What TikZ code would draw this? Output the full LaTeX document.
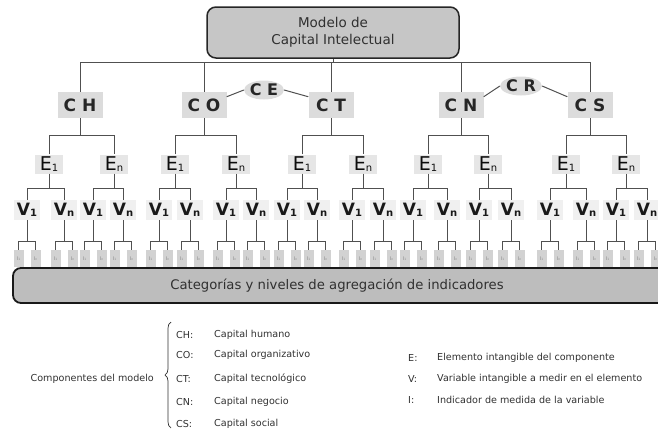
\documentclass[tikz,border=0pt]{standalone}
\usepackage{fontspec}
\setmainfont{DejaVu Sans}
\usetikzlibrary{shapes.geometric,decorations.pathreplacing}
\definecolor{linegray}{HTML}{505050}
\definecolor{txtgray}{HTML}{303030}
\definecolor{topfill}{HTML}{C6C6C6}
\definecolor{catfill}{HTML}{BDBDBD}
\definecolor{compfill}{HTML}{DCDCDC}
\definecolor{efill}{HTML}{E6E6E6}
\definecolor{vfill}{HTML}{F0F0F0}
\definecolor{ifill}{HTML}{D2D2D2}
\newcommand\esub[1]{\raisebox{-0.5pt}{\fontsize{10}{10}\selectfont #1}}
\newcommand\vsub[1]{\raisebox{-0.5pt}{\fontsize{10}{10}\selectfont\bfseries #1}}
\newcommand\isub[1]{\raisebox{-0.5pt}{\fontsize{3}{3}\selectfont #1}}
\tikzset{
  conn/.style={draw=linegray, line width=1pt},
  topbox/.style={draw=black!85, line width=1.5pt, fill=topfill, rounded corners=9pt,
     minimum width=252pt, minimum height=51pt, align=center, inner sep=0pt,
     text=txtgray, font=\fontsize{13.5}{17}\selectfont},
  comp/.style={fill=compfill, minimum width=45pt, minimum height=26pt, inner sep=0pt,
     text=black!85, font=\fontsize{17}{17}\selectfont\bfseries},
  rel/.style={ellipse, fill=compfill, minimum width=37pt, minimum height=19pt, inner sep=0pt,
     text=black!85, font=\fontsize{16}{16}\selectfont\bfseries},
  enode/.style={fill=efill, minimum width=28pt, minimum height=19pt, inner sep=0pt,
     text=black!95, font=\fontsize{19}{19}\selectfont},
  vnode/.style={fill=vfill, minimum width=26pt, minimum height=20pt, inner sep=0pt,
     text=black!90, font=\fontsize{17}{17}\selectfont\bfseries},
  inode/.style={fill=ifill, minimum width=10pt, minimum height=17pt, inner sep=0pt,
     text=black!45, font=\fontsize{5}{5}\selectfont},
  legend/.style={anchor=west, inner sep=0pt, text=txtgray, font=\fontsize{9.6}{9.6}\selectfont},
}
\begin{document}
\begin{tikzpicture}[x=1pt,y=-1pt]
\useasboundingbox (0,0) rectangle (658,434);

% bars
\coordinate (barT) at (0,62);
\coordinate (barE) at (0,135);
\coordinate (barV) at (0,188);
\coordinate (barI) at (0,241);

% top
\node[topbox] (top) at (333,32.5) {Modelo de\\Capital Intelectual};

% components
\foreach \c/\cx/\lab in {CH/80/{C H}, CO/204/{C O}, CT/331/{C T}, CN/461/{C N}, CS/590/{C S}}
  {\node[comp] (\c) at (\cx,105) {\lab};}
\node[rel] (CE) at (264,90) {C E};
\node[rel] (CR) at (521,86) {C R};

\draw[conn] (top.south) -- (top.south |- barT);
\draw[conn] (CH.north) -- (CH.north |- barT) -- (CS.north |- barT) -- (CS.north);
\draw[conn] (CO.north) -- (CO.north |- barT);
\draw[conn] (CT.north) -- (CT.north |- barT);
\draw[conn] (CN.north) -- (CN.north |- barT);
\draw[conn] (CO.20) -- (CE.west);
\draw[conn] (CE.east) -- (CT.160);
\draw[conn] (CN.20) -- (CR.west);
\draw[conn] (CR.east) -- (CS.160);

% elements
\foreach \c/\xa/\xb in {CH/49/114, CO/175/236, CT/302/363, CN/428/488, CS/566/626} {
  \node[enode] (E\c1) at (\xa,164) {E\esub{1}};
  \node[enode] (E\c n) at (\xb,164) {E\esub{n}};
  \draw[conn] (\c.south) -- (\c.south |- barE);
  \draw[conn] (E\c1.north) -- (E\c1.north |- barE) -- (E\c n.north |- barE) -- (E\c n.north);
}

% variables and indicators
\foreach \e/\va/\vb in {CH1/27/64, CHn/93/123, CO1/159/190, COn/226/256, CT1/287/317,
    CTn/352/383, CN1/413/447, CNn/479/511, CS1/550/586, CSn/616/647} {
  \node[vnode] (Va\e) at (\va,210) {V\vsub{1}};
  \node[vnode] (Vb\e) at (\vb,210) {V\vsub{n}};
  \draw[conn] (E\e.south) -- (E\e.south |- barV);
  \draw[conn] (Va\e.north) -- (Va\e.north |- barV) -- (Vb\e.north |- barV) -- (Vb\e.north);
  \foreach \s in {a,b} {
    \path (V\s\e.center) ++(-8.5,48.5) node[inode] (IL\s\e) {I\isub{1}}
          ++(17,0) node[inode] (IR\s\e) {I\isub{n}};
    \draw[conn] (V\s\e.south) -- (V\s\e.south |- barI);
    \draw[conn] (IL\s\e.north) -- (IL\s\e.north |- barI) -- (IR\s\e.north |- barI) -- (IR\s\e.north);
  }
}

% bottom box
\draw[draw=black!90, line width=1.8pt, fill=catfill, rounded corners=8pt] (13,268) rectangle (675,303);
\node[text=txtgray, font=\fontsize{13.2}{13.2}\selectfont, inner sep=0pt] (cat) at (337,285.5)
  {Categorías y niveles de agregación de indicadores};

% legend
\node[anchor=east, inner sep=0pt, text=txtgray, font=\fontsize{9.6}{9.6}\selectfont] (comp) at (154,379) {Componentes del modelo};
\draw[draw=txtgray, line width=0.7pt, decorate, decoration={brace, amplitude=6pt}] (171,428) -- (171,322);
\foreach \k/\y/\d in {CH/335/{Capital humano}, CO/355/{Capital organizativo}, CT/379/{Capital tecnológico},
    CN/402/{Capital negocio}, CS/424/{Capital social}} {
  \node[legend] (k\k) at (176,\y) {\k:};
  \node[legend] (d\k) at (214,\y) {\d};
}
\foreach \k/\y/\d in {E/358/{Elemento intangible del componente}, V/379/{Variable intangible a medir en el elemento},
    I/400/{Indicador de medida de la variable}} {
  \node[legend] (k\k) at (408,\y) {\k:};
  \node[legend] (d\k) at (437,\y) {\d};
}
\end{tikzpicture}
\end{document}
